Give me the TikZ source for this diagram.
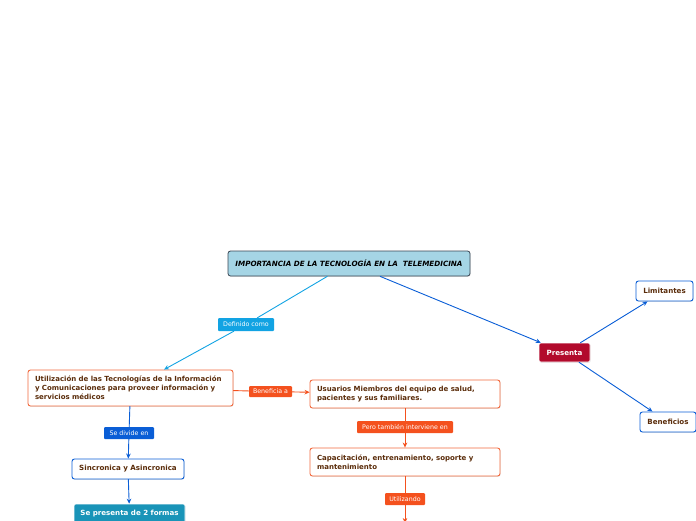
\documentclass[tikz,border=0pt]{standalone}
\usepackage{fontspec}
\setmainfont{DejaVu Sans}
\usetikzlibrary{arrows.meta,positioning,shadows}
\definecolor{titlefill}{HTML}{A5D5E5}
\definecolor{titledraw}{HTML}{3A4654}
\definecolor{skyline}{HTML}{12A3E3}
\definecolor{redline}{HTML}{F4511E}
\definecolor{redbox}{HTML}{F26A3E}
\definecolor{blueline}{HTML}{0A5ED6}
\definecolor{crimson}{HTML}{B20A2C}
\definecolor{tealbox}{HTML}{1994B8}
\definecolor{brownink}{HTML}{5A2C0A}
\tikzset{
    every picture/.style={line cap=round,line join=round},
    softshadow/.style={drop shadow={shadow xshift=0.6pt,shadow yshift=-0.8pt,opacity=0.22}},
    topic/.style={draw=#1,fill=white,line width=0.9pt,rounded corners=2.5pt,
      softshadow,text=brownink,font=\fontsize{7}{9}\selectfont\bfseries,
      inner xsep=7pt,inner ysep=2pt,align=left},
    smalltopic/.style={draw=#1,fill=white,line width=0.9pt,rounded corners=2.5pt,
      softshadow,text=brownink,font=\fontsize{7.1}{8}\selectfont\bfseries,
      inner sep=1pt,minimum height=20pt,align=center},
    solidtopic/.style={draw=white,fill=#1,line width=0.6pt,rounded corners=2pt,
      softshadow,text=white,font=\fontsize{7.1}{8}\selectfont\bfseries,
      inner sep=1pt,align=center},
    tag/.style={fill=#1,text=white,rounded corners=1pt,inner sep=0pt,
      minimum height=12pt,font=\fontsize{6.3}{7}\selectfont},
    flow/.style={-{Stealth[length=5pt,width=4.6pt]},draw=#1,line width=0.9pt},
    plain/.style={draw=#1,line width=0.9pt}
}
\begin{document}
\begin{tikzpicture}[x=1pt,y=-1pt]
  \useasboundingbox (0,0) rectangle (696,520);
  \clip (0,0) rectangle (696,520);
  % central topic
  \node[draw=titledraw,fill=titlefill,line width=0.8pt,rounded corners=2.5pt,softshadow,
    minimum width=242pt,minimum height=25pt,inner sep=1pt,
    font=\fontsize{7.2}{8}\selectfont\bfseries\itshape] (title) at (349,263.5)
    {IMPORTANCIA DE LA TECNOLOGÍA EN LA \ TELEMEDICINA};

  % left branch
  \node[tag=skyline,minimum width=56pt,minimum height=13pt] (defl) at (246,324.5) {Definido como};
  \node[topic=redbox,text width=191pt,minimum height=36pt] (util) at (130.5,388)
    {Utilización de las Tecnologías de la Información\\y Comunicaciones para proveer información y\\servicios médicos};
  \node[tag=redline,minimum width=43pt,minimum height=11pt] (benl) at (270.5,391.5) {Beneficia a};
  \node[topic=redbox,text width=176pt,minimum height=28pt] (users) at (405,394)
    {Usuarios Miembros del equipo de salud,\\pacientes y sus familiares.};
  \node[tag=redline,minimum width=96pt] (perol) at (405,427) {Pero también interviene en};
  \node[topic=redbox,text width=176pt,minimum height=28pt] (capa) at (405,462)
    {Capacitación, entrenamiento, soporte y\\mantenimiento};
  \node[tag=redline,minimum width=40pt] (usel) at (405,499) {Utilizando};
  \coordinate (drop) at (405,523);

  \node[tag=blueline,minimum width=50pt] (divl) at (129,433) {Se divide en};
  \node[smalltopic=blueline,minimum width=112pt] (sinc) at (128,469) {Sincronica y Asincronica};
  \node[solidtopic=tealbox,minimum width=111pt,minimum height=20pt] (forms) at (129.5,514)
    {Se presenta de 2 formas};

  % right branch
  \node[solidtopic=crimson,minimum width=51pt,minimum height=19pt] (pres) at (564.5,352.5) {Presenta};
  \node[smalltopic=blueline,minimum width=57pt] (limit) at (664.5,291) {Limitantes};
  \node[smalltopic=blueline,minimum width=56pt] (benef) at (668,422) {Beneficios};

  % connectors
  \draw[plain=skyline] (title) -- (defl);
  \draw[flow=skyline] (defl) -- (util);
  \draw[plain=redline] (util) -- (benl);
  \draw[flow=redline] (benl) -- (users);
  \draw[plain=redline] (users) -- (perol);
  \draw[flow=redline] (perol) -- (capa);
  \draw[plain=redline] (capa) -- (usel);
  \draw[flow=redline] (usel) -- (drop);
  \draw[plain=blueline] (util) -- (divl);
  \draw[flow=blueline] (divl) -- (sinc);
  \draw[flow=blueline] (sinc) -- (forms);
  \draw[flow=blueline] (title) -- (pres);
  \draw[flow=blueline] (pres) -- (limit);
  \draw[flow=blueline] (pres) -- (benef);
\end{tikzpicture}
\end{document}
